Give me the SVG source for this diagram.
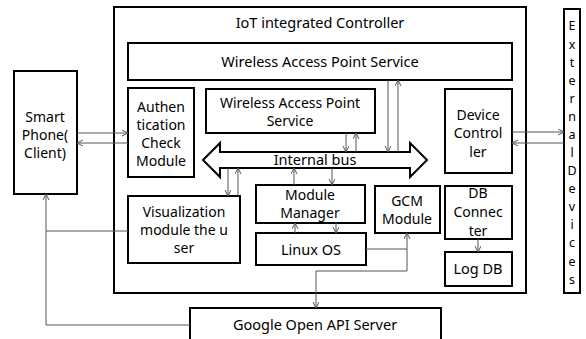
<svg xmlns="http://www.w3.org/2000/svg" width="586" height="339" viewBox="0 0 586 339">
<defs>
<style>
.box{fill:#fff;stroke:#000;stroke-width:2}
.t{font-family:"Noto Sans","Open Sans","DejaVu Sans",sans-serif;font-size:14px;fill:#000;text-anchor:middle}
.l{font-size:14.5px}
.s{font-size:12.5px}
.c{fill:none;stroke:#555;stroke-width:1}
</style>
<marker id="a" markerWidth="8" markerHeight="8" refX="6" refY="3" orient="auto" markerUnits="userSpaceOnUse">
<path d="M0,0 L6,3 L0,6" fill="none" stroke="#555" stroke-width="1"/>
</marker>
</defs>
<rect width="586" height="339" fill="#fff"/>

<g id="controller">
<rect class="box" x="114" y="7" width="412" height="286"/>
<text class="t l" x="320" y="28">IoT integrated Controller</text>
</g>

<g id="wap-top">
<rect class="box" x="128" y="43" width="384" height="37"/>
<text class="t l" x="320" y="67">Wireless Access Point Service</text>
</g>

<g id="smartphone">
<rect class="box" x="14" y="71" width="63" height="123"/>
<text class="t" x="45" y="122">Smart</text>
<text class="t" x="45" y="140">Phone(</text>
<text class="t" x="45" y="158">Client)</text>
</g>

<g id="auth">
<rect class="box" x="128" y="88" width="66" height="89"/>
<text class="t" x="161" y="112">Authen</text>
<text class="t" x="161" y="130">tication</text>
<text class="t" x="161" y="148">Check</text>
<text class="t" x="161" y="166">Module</text>
</g>

<g id="wap-inner">
<rect class="box" x="206" y="89" width="169" height="44"/>
<text class="t" x="290" y="108">Wireless Access Point</text>
<text class="t" x="290" y="126">Service</text>
</g>

<g id="device-controller">
<rect class="box" x="445" y="89" width="67" height="84"/>
<text class="t" x="478" y="120">Device</text>
<text class="t" x="478" y="138">Control</text>
<text class="t" x="478" y="157">ler</text>
</g>

<g id="external-devices">
<rect class="box" x="564" y="9" width="16" height="284"/>
<g class="t s">
<text x="572" y="30">E</text>
<text x="572" y="49">x</text>
<text x="572" y="67">t</text>
<text x="572" y="85">e</text>
<text x="572" y="103">r</text>
<text x="572" y="121">n</text>
<text x="572" y="139">a</text>
<text x="572" y="157">l</text>
<text x="572" y="175">D</text>
<text x="572" y="193">e</text>
<text x="572" y="211">v</text>
<text x="572" y="229">i</text>
<text x="572" y="247">c</text>
<text x="572" y="266">e</text>
<text x="572" y="284">s</text>
</g>
</g>

<g id="internal-bus">
<polygon class="box" points="203,160 220,143 220,152 410,152 410,143 427,160 410,177 410,168 220,168 220,177"/>
<text class="t l" x="315" y="165">Internal bus</text>
</g>

<g id="visualization">
<rect class="box" x="128" y="196" width="112" height="67"/>
<text class="t" x="184" y="217">Visualization</text>
<text class="t" x="184" y="235">module the u</text>
<text class="t" x="184" y="253">ser</text>
</g>

<g id="module-manager">
<rect class="box" x="256" y="185" width="109" height="38"/>
<text class="t" x="310" y="200">Module</text>
<text class="t" x="310" y="218">Manager</text>
</g>

<g id="linux-os">
<rect class="box" x="256" y="233" width="110" height="32"/>
<text class="t l" x="311" y="255">Linux OS</text>
</g>

<g id="gcm">
<rect class="box" x="375" y="186" width="65" height="47"/>
<text class="t" x="407" y="206">GCM</text>
<text class="t" x="407" y="224">Module</text>
</g>

<g id="db-connecter">
<rect class="box" x="445" y="186" width="67" height="53"/>
<text class="t" x="478" y="198">DB</text>
<text class="t" x="478" y="217">Connec</text>
<text class="t" x="478" y="236">ter</text>
</g>

<g id="log-db">
<rect class="box" x="445" y="252" width="67" height="34"/>
<text class="t l" x="478" y="274">Log DB</text>
</g>

<g id="google-api">
<rect class="box" x="190" y="308" width="251" height="32"/>
<text class="t l" x="315" y="330">Google Open API Server</text>
</g>

<g id="connectors">
<line class="c" x1="77" y1="133" x2="128" y2="133" marker-end="url(#a)"/>
<line class="c" x1="128" y1="143" x2="77" y2="143" marker-end="url(#a)"/>
<line class="c" x1="512" y1="132" x2="564" y2="132" marker-end="url(#a)"/>
<line class="c" x1="564" y1="143" x2="512" y2="143" marker-end="url(#a)"/>
<line class="c" x1="388" y1="80" x2="388" y2="152" marker-end="url(#a)"/>
<line class="c" x1="398" y1="152" x2="398" y2="80" marker-end="url(#a)"/>
<line class="c" x1="346" y1="133" x2="346" y2="152" marker-end="url(#a)"/>
<line class="c" x1="356" y1="152" x2="356" y2="133" marker-end="url(#a)"/>
<line class="c" x1="228" y1="168" x2="228" y2="196" marker-end="url(#a)"/>
<line class="c" x1="238" y1="196" x2="238" y2="168" marker-end="url(#a)"/>
<line class="c" x1="294" y1="185" x2="294" y2="168" marker-end="url(#a)"/>
<line class="c" x1="332" y1="168" x2="332" y2="185" marker-end="url(#a)"/>
<line class="c" x1="295" y1="233" x2="295" y2="223" marker-end="url(#a)"/>
<line class="c" x1="336" y1="223" x2="336" y2="233" marker-end="url(#a)"/>
<polyline class="c" points="366,249 407,249 407,233" marker-end="url(#a)"/>
<polyline class="c" points="407,249 407,271 316,271 316,308" marker-end="url(#a)"/>
<line class="c" x1="478" y1="239" x2="478" y2="252" marker-end="url(#a)"/>
<polyline class="c" points="190,325 46,325 46,194" marker-end="url(#a)"/>
<line class="c" x1="128" y1="231" x2="46" y2="231"/>
</g>
</svg>
